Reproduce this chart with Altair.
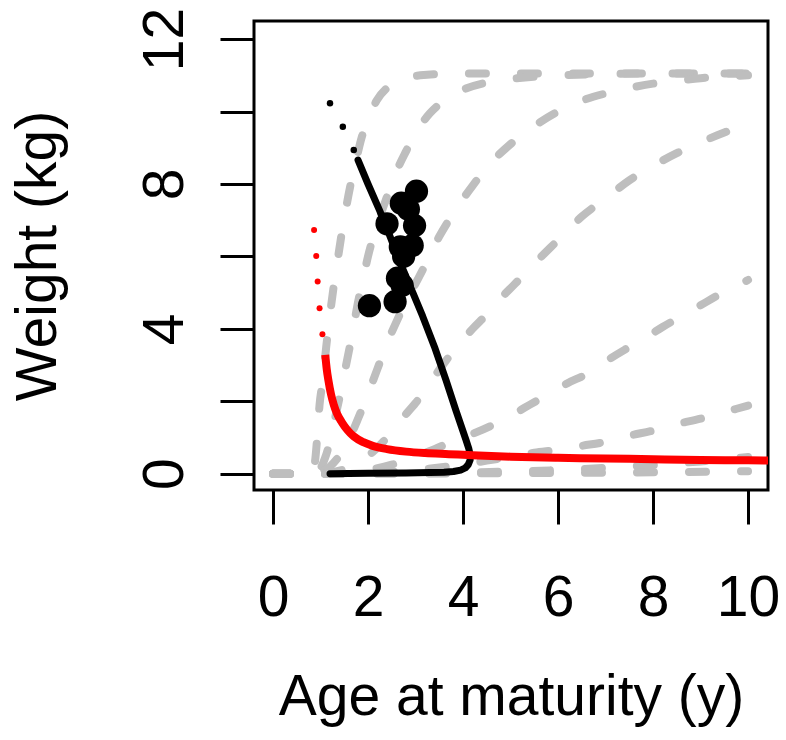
import altair as alt
import pandas as pd

# ---- gray dashed growth curves ----
c1_x = [0, 0.46, 0.8, 0.88, 0.93, 0.98, 1.05, 1.12, 1.2, 1.27, 1.35, 1.43, 1.52, 1.62, 1.74, 1.87, 2.0, 2.18, 2.4, 2.7, 3.1, 4, 6, 10]
c1_y = [0, 0, 0, 0.3, 1.0, 1.9, 2.6, 3.5, 4.4, 5.1, 5.8, 6.5, 7.2, 7.9, 8.6, 9.3, 9.75, 10.3, 10.65, 10.88, 11.0, 11.05, 11.05, 11.05]

c2_x = [0, 0.46, 0.85, 1.0, 1.1, 1.2, 1.3, 1.4, 1.5, 1.6, 1.7, 1.8, 1.9, 2.0, 2.2, 2.4, 2.6, 2.8, 3.0, 3.3, 3.6, 4.0, 4.5, 5, 6, 8, 10]
c2_y = [0, 0, 0, 0.15, 0.45, 0.9, 1.5, 2.1, 2.75, 3.4, 4.1, 4.8, 5.4, 6.0, 6.9, 7.65, 8.35, 8.9, 9.4, 9.95, 10.3, 10.6, 10.8, 10.9, 11.0, 11.05, 11.05]

c3_x = [0, 0.46, 0.85, 1.0, 1.2, 1.4, 1.6, 1.8, 2.0, 2.2, 2.4, 2.6, 2.8, 3.0, 3.2, 3.5, 3.8, 4.2, 4.6, 5.0, 5.5, 6.0, 6.5, 7.0, 7.5, 8.0, 8.5, 9.0, 10]
c3_y = [0, 0, 0, 0.05, 0.2, 0.5, 0.95, 1.55, 2.2, 2.9, 3.6, 4.2, 4.75, 5.25, 5.75, 6.55, 7.2, 7.95, 8.6, 9.1, 9.6, 10.0, 10.3, 10.5, 10.65, 10.77, 10.85, 10.92, 11.0]

c4_x = [0, 0.46, 0.85, 1.2, 1.5, 1.8, 2.1, 2.4, 2.7, 3.0, 3.3, 3.6, 3.9, 4.2, 4.5, 4.8, 5.1, 5.5, 6.0, 6.5, 7.0, 7.5, 8.0, 8.5, 9.0, 9.5, 10]
c4_y = [0, 0, 0, 0.03, 0.12, 0.3, 0.6, 1.0, 1.5, 1.95, 2.5, 3.05, 3.55, 4.0, 4.4, 4.85, 5.25, 5.8, 6.45, 7.1, 7.6, 8.1, 8.5, 8.85, 9.15, 9.42, 9.65]

c5_x = [0, 0.46, 0.85, 1.5, 2.0, 2.5, 3.0, 3.4, 3.8, 4.2, 4.6, 5.0, 5.4, 5.8, 6.2, 6.6, 7.0, 7.4, 7.8, 8.2, 8.6, 9.0, 9.4, 9.7, 10]
c5_y = [0, 0, 0, 0.02, 0.1, 0.25, 0.47, 0.68, 0.9, 1.1, 1.33, 1.6, 1.9, 2.2, 2.5, 2.75, 3.1, 3.42, 3.72, 4.05, 4.35, 4.65, 4.95, 5.15, 5.35]

c6_x = [0, 0.46, 0.85, 2.0, 3.0, 3.5, 4.0, 4.5, 5.0, 5.5, 6.0, 6.5, 7.0, 7.5, 8.0, 8.5, 9.0, 9.5, 10]
c6_y = [0, 0, 0, 0.02, 0.1, 0.17, 0.26, 0.36, 0.47, 0.58, 0.66, 0.77, 0.88, 1.05, 1.19, 1.37, 1.52, 1.7, 1.88]

c7_x = [0, 0.46, 0.85, 3, 4, 5, 6, 7, 8, 9, 10]
c7_y = [0, 0, 0, 0.01, 0.03, 0.06, 0.1, 0.16, 0.24, 0.34, 0.46]

c8_x = [0, 0.46, 0.85, 4, 6, 8, 10]
c8_y = [0, 0, 0, 0.01, 0.02, 0.04, 0.07]

# ---- black trade-off line ----
blk_x = [1.2, 2.0, 2.8, 3.3, 3.6, 3.8, 3.95, 4.05, 4.11, 4.15, 4.15, 4.12, 4.06, 3.85, 3.64, 3.4, 3.15, 2.95, 2.7, 2.45, 2.25, 2.0, 1.79]
blk_y = [0.0, 0.01, 0.02, 0.03, 0.04, 0.06, 0.1, 0.16, 0.25, 0.38, 0.52, 0.7, 0.94, 1.75, 2.59, 3.5, 4.35, 4.98, 5.75, 6.6, 7.25, 8.0, 8.66]
blkdot_x = [1.2, 1.47, 1.70]
blkdot_y = [10.23, 9.58, 8.94]

# ---- big black points ----
pt_x = [3.02, 2.7, 2.85, 2.4, 2.98, 2.68, 2.93, 2.75, 2.62, 2.72, 2.57, 2.03]
pt_y = [7.8, 7.47, 7.3, 6.9, 6.85, 6.26, 6.3, 6.0, 5.4, 5.2, 4.75, 4.64]

# ---- red line ----
red_x = [1.1, 1.13, 1.17, 1.22, 1.28, 1.35, 1.45, 1.57, 1.7, 1.9, 2.1, 2.4, 2.8, 3.2, 3.7, 4.2, 5, 6, 7, 8, 9, 10, 10.6]
red_y = [3.28, 2.9, 2.55, 2.2, 1.9, 1.65, 1.42, 1.2, 1.03, 0.87, 0.77, 0.68, 0.61, 0.57, 0.54, 0.51, 0.47, 0.44, 0.42, 0.4, 0.38, 0.37, 0.36]
reddot_x = [0.865, 0.91, 0.94, 0.98, 1.04]
reddot_y = [6.73, 6.01, 5.31, 4.57, 3.85]

x_ticks = [0, 2, 4, 6, 8, 10]
y_ticks = [0, 2, 4, 6, 8, 10, 12]

curves = [(c1_x, c1_y), (c2_x, c2_y), (c3_x, c3_y), (c4_x, c4_y),
          (c5_x, c5_y), (c6_x, c6_y), (c7_x, c7_y), (c8_x, c8_y)]
rows = []
for ci, (cx, cy) in enumerate(curves):
    for i, (a, b) in enumerate(zip(cx, cy)):
        rows.append({"curve": ci, "i": i, "x": a, "y": b})
gray_df = pd.DataFrame(rows)
blk_df = pd.DataFrame({"x": blk_x, "y": blk_y, "i": list(range(len(blk_x)))})
blkdot_df = pd.DataFrame({"x": blkdot_x, "y": blkdot_y})
pt_df = pd.DataFrame({"x": pt_x, "y": pt_y})
red_df = pd.DataFrame({"x": red_x, "y": red_y})
reddot_df = pd.DataFrame({"x": reddot_x, "y": reddot_y})

FONT = "Liberation Sans"
FS = 57
W, H = 514, 469
PL, PT, PR, PB = 246, 13, 10, 237

xs = alt.Scale(domain=[-0.4, 10.42], nice=False, zero=False)
ys = alt.Scale(domain=[-0.45, 12.5], nice=False, zero=False)

xaxis = alt.Axis(values=x_ticks, tickSize=34, tickWidth=3, tickColor="black",
                 domain=False, grid=False, labelFont=FONT, labelFontSize=FS,
                 labelColor="black", labelBaseline="alphabetic", labelPadding=91,
                 labelFlush=False, labelOverlap=False,
                 titleFont=FONT, titleFontSize=FS, titleFontWeight="normal",
                 titleColor="black", titleBaseline="alphabetic", titleAlign="center",
                 titleX=W / 2, titleY=224)
yaxis = alt.Axis(values=y_ticks, tickSize=34, tickWidth=3, tickColor="black",
                 domain=False, grid=False, labelFont=FONT, labelFontSize=FS,
                 labelColor="black", labelAngle=270, labelAlign="center",
                 labelBaseline="alphabetic", labelPadding=38,
                 labelFlush=False, labelOverlap=False,
                 labelExpr="datum.value % 4 == 0 ? datum.label : ''",
                 titleFont=FONT, titleFontSize=FS, titleFontWeight="normal",
                 titleColor="black", titleAngle=270, titleBaseline="alphabetic",
                 titleAlign="center", titleX=-199, titleY=H / 2)

X = alt.X("x:Q", scale=xs, axis=xaxis, title="Age at maturity (y)")
Y = alt.Y("y:Q", scale=ys, axis=yaxis, title="Weight (kg)")

gray = alt.Chart(gray_df).mark_line(color="#BEBEBE", strokeWidth=8, strokeDash=[17, 35],
                                    strokeCap="round", interpolate="monotone", clip=True).encode(
    x=X, y=Y, detail="curve:N", order="i:Q")
blk = alt.Chart(blk_df).mark_line(color="black", strokeWidth=7, strokeCap="round",
                                  strokeJoin="round", clip=True).encode(x=X, y=Y, order="i:Q")
blkdot = alt.Chart(blkdot_df).mark_circle(color="black", size=42, opacity=1).encode(x=X, y=Y)
pts = alt.Chart(pt_df).mark_circle(color="black", size=540, opacity=1).encode(x=X, y=Y)
red = alt.Chart(red_df).mark_line(color="#FF0000", strokeWidth=8, strokeCap="butt",
                                  interpolate="monotone", clip=True).encode(x=X, y=Y)
reddot = alt.Chart(reddot_df).mark_circle(color="#FF0000", size=36, opacity=1).encode(x=X, y=Y)

chart = alt.layer(gray, blk, blkdot, pts, red, reddot).properties(
    width=W, height=H,
    padding={"left": PL, "top": PT, "right": PR, "bottom": PB},
    autosize=alt.AutoSizeParams(type="none"),
    background="white",
).configure_view(stroke="black", strokeWidth=3)

chart.save("out.html", embed_options={"renderer": "svg", "actions": False})
